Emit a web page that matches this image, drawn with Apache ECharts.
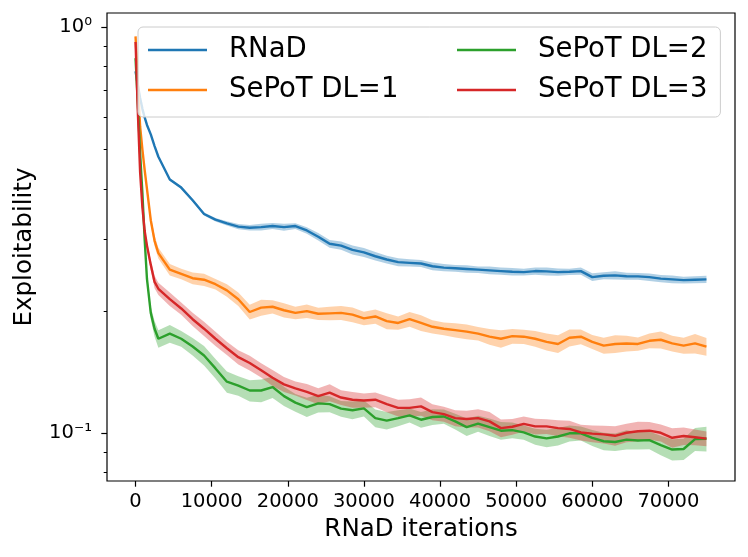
<!DOCTYPE html>
<html>
<head>
<meta charset="utf-8">
<script src="https://cdn.jsdelivr.net/npm/echarts@6/dist/echarts.min.js"></script>
<style>
* {margin: 0; padding: 0;}
#main {width: 748px; height: 557px;}
</style>
</head>
<body>
<div id="main"></div>
<script>
// x grid shared by every run (RNaD iterations)
const ITERS = [
    0, 300, 600, 900, 1200, 1500, 2000, 2500, 3000,
    4500, 6000, 7500, 9000, 10500, 12000, 13500, 15000,
    16500, 18000, 19500, 21000, 22500, 24000, 25500, 27000,
    28500, 30000, 31500, 33000, 34500, 36000, 37500, 39000,
    40500, 42000, 43500, 45000, 46500, 48000, 49500, 51000,
    52500, 54000, 55500, 57000, 58500, 60000, 61500, 63000,
    64500, 66000, 67500, 69000, 70500, 72000, 73500, 75000
];

// mean exploitability, and half width of the shaded band in percent
const RNAD = [
    0.78, 0.72, 0.67, 0.63, 0.60, 0.575, 0.545, 0.51, 0.48,
    0.422, 0.403, 0.375, 0.347, 0.336, 0.329, 0.323, 0.321,
    0.322, 0.324, 0.322, 0.324, 0.316, 0.305, 0.293, 0.290,
    0.283, 0.279, 0.273, 0.268, 0.264, 0.263, 0.262, 0.258,
    0.256, 0.255, 0.254, 0.253, 0.252, 0.251, 0.250, 0.2495,
    0.251, 0.2505, 0.2495, 0.250, 0.251, 0.2425, 0.2445, 0.245,
    0.2437, 0.2435, 0.2425, 0.2405, 0.2395, 0.2385, 0.239, 0.2395
];
const RNAD_SPREAD = [
    0.5, 0.5, 0.5, 0.5, 0.5, 0.5, 0.6, 0.6, 0.6,
    0.7, 0.8, 0.8, 0.9, 1.0, 1.2, 1.5, 1.6,
    1.9, 1.7, 2.0, 1.6, 1.9, 2.1, 2.2, 2.3,
    2.5, 2.6, 2.4, 2.2, 2.3, 2.1, 2.0, 2.2,
    2.0, 1.9, 2.1, 1.8, 2.2, 2.0, 2.1, 1.9,
    2.0, 2.3, 2.1, 1.8, 2.0, 2.2, 2.0, 2.3,
    2.0, 1.9, 2.1, 2.0, 2.2, 1.9, 2.0, 2.1
];

const DL1 = [
    0.95, 0.73, 0.57, 0.50, 0.445, 0.40, 0.335, 0.298, 0.278,
    0.253, 0.247, 0.241, 0.239, 0.233, 0.225, 0.214, 0.199,
    0.204, 0.205, 0.201, 0.198, 0.200, 0.197, 0.1975, 0.198,
    0.196, 0.192, 0.194, 0.189, 0.187, 0.191, 0.187, 0.183,
    0.181, 0.1795, 0.178, 0.176, 0.173, 0.171, 0.1735, 0.173,
    0.171, 0.168, 0.166, 0.172, 0.173, 0.168, 0.1645, 0.166,
    0.1665, 0.166, 0.169, 0.170, 0.1665, 0.1645, 0.1665, 0.1635
];
const DL1_SPREAD = [
    1.0, 1.0, 1.0, 1.2, 1.5, 2.0, 2.5, 3.0, 3.0,
    3.2, 3.0, 3.3, 3.5, 3.0, 3.5, 3.8, 4.2,
    4.5, 3.8, 4.0, 3.5, 3.8, 3.5, 3.8, 4.0,
    4.2, 3.8, 4.0, 4.5, 3.8, 4.2, 4.5, 3.8,
    3.6, 4.0, 4.2, 3.8, 4.5, 5.0, 4.2, 4.0,
    4.5, 4.8, 5.0, 4.8, 4.2, 4.0, 4.5, 5.0,
    4.5, 3.8, 4.2, 4.8, 4.5, 4.5, 5.5, 5.0
];

const DL2 = [
    0.84, 0.65, 0.49, 0.39, 0.30, 0.24, 0.198, 0.181, 0.171,
    0.176, 0.171, 0.1636, 0.1555, 0.1445, 0.134, 0.131, 0.1275,
    0.1275, 0.130, 0.1235, 0.119, 0.116, 0.1185, 0.118, 0.115,
    0.114, 0.1152, 0.109, 0.1075, 0.109, 0.1107, 0.108, 0.1097,
    0.110, 0.107, 0.1036, 0.1057, 0.1036, 0.1015, 0.1018, 0.1005,
    0.0982, 0.0972, 0.0982, 0.100, 0.100, 0.0975, 0.0956, 0.0952,
    0.0965, 0.096, 0.0962, 0.0935, 0.0912, 0.0915, 0.0968, 0.097
];
const DL2_SPREAD = [
    1.0, 1.0, 1.5, 1.5, 2.0, 2.5, 3.5, 4.5, 5.0,
    5.0, 4.5, 5.0, 5.5, 5.5, 6.0, 5.5, 6.0,
    6.5, 6.0, 5.5, 5.0, 5.5, 5.0, 4.5, 4.5,
    5.0, 4.5, 5.0, 5.0, 4.5, 4.0, 4.5, 4.5,
    4.0, 4.5, 5.0, 4.5, 5.0, 5.0, 4.5, 4.0,
    4.5, 5.0, 5.0, 4.5, 4.0, 4.5, 5.0, 5.0,
    5.5, 5.0, 5.0, 5.5, 6.0, 6.0, 6.5, 7.0
];

const DL3 = [
    0.92, 0.62, 0.44, 0.36, 0.315, 0.29, 0.26, 0.236, 0.227,
    0.214, 0.203, 0.191, 0.181, 0.171, 0.162, 0.154, 0.149,
    0.143, 0.137, 0.132, 0.129, 0.1265, 0.1235, 0.126, 0.1225,
    0.121, 0.1205, 0.121, 0.118, 0.1155, 0.1155, 0.1165, 0.1128,
    0.1115, 0.109, 0.1085, 0.109, 0.107, 0.103, 0.1038, 0.1055,
    0.104, 0.104, 0.103, 0.1025, 0.1005, 0.0998, 0.0994, 0.0986,
    0.1003, 0.1012, 0.1015, 0.1003, 0.0975, 0.0985, 0.0978, 0.097
];
const DL3_SPREAD = [
    1.0, 1.0, 1.2, 1.5, 2.0, 2.5, 3.0, 3.5, 3.5,
    3.8, 3.5, 3.8, 4.0, 4.0, 3.8, 4.0, 4.2,
    4.0, 4.5, 4.2, 4.0, 4.5, 4.5, 4.8, 4.2,
    4.5, 4.0, 4.2, 4.5, 4.8, 5.0, 5.2, 4.5,
    4.2, 4.5, 4.8, 5.2, 5.5, 5.0, 4.5, 4.2,
    4.5, 4.2, 4.5, 4.8, 4.5, 4.8, 5.0, 5.5,
    5.2, 5.5, 5.0, 4.8, 5.5, 5.0, 4.5, 4.2
];

const X_TICKS = [0, 10000, 20000, 30000, 40000, 50000, 60000, 70000];
const Y_MAJOR = [0.1, 1];
const Y_MINOR = [0.08, 0.09, 0.2, 0.3, 0.4, 0.5, 0.6, 0.7, 0.8, 0.9];

const NAMES = ['RNaD', 'SePoT DL=1', 'SePoT DL=2', 'SePoT DL=3'];
const COLORS = ['#1f77b4', '#ff7f0e', '#2ca02c', '#d62728'];
const BAND_COLORS = ['rgba(31,119,180,0.35)', 'rgba(255,127,14,0.35)', 'rgba(44,160,44,0.35)', 'rgba(214,39,40,0.35)'];
const RUNS = [[RNAD, RNAD_SPREAD], [DL1, DL1_SPREAD], [DL2, DL2_SPREAD], [DL3, DL3_SPREAD]];

const FONT = 'DejaVu Sans';
const SUP = {'-': '\u207b', '0': '\u2070', '1': '\u00b9', '2': '\u00b2', '3': '\u00b3'};

function runSeries(i) {
    const [mean, spread] = RUNS[i];
    // rows: [iteration, lower, upper]
    const band = mean.map((v, k) => [ITERS[k], v * (1 - spread[k] / 100), v * (1 + spread[k] / 100)]);
    return [
        {
            type: 'custom',
            name: '_band' + i,
            silent: true,
            data: band,
            encode: {x: 0, y: [1, 2]},
            renderItem(params, api) {
                // the whole band is one polygon, drawn on the first item
                if (params.dataIndex !== 0) {
                    return null;
                }
                const top = band.map(r => api.coord([r[0], r[2]]));
                const bottom = band.map(r => api.coord([r[0], r[1]])).reverse();
                return {
                    type: 'polygon',
                    shape: {points: top.concat(bottom)},
                    style: {fill: BAND_COLORS[i]}
                };
            }
        },
        {
            type: 'line', name: NAMES[i],
            data: mean.map((v, k) => [ITERS[k], v]),
            symbol: 'none',
            color: COLORS[i],
            lineStyle: {width: 2.4, color: COLORS[i]}
        }
    ];
}

const legendText = {
    fontFamily: FONT, fontSize: 27.5, color: '#000',
    lineHeight: 32, padding: [0, 0, 0, 17]
};

const option = {
    animation: false,
    textStyle: {fontFamily: FONT},
    grid: {
        left: 107, right: 13, top: 13, bottom: 76,
        show: true, borderColor: '#000', borderWidth: 1.2
    },
    legend: [
        {
            data: NAMES.slice(0, 2), orient: 'vertical',
            left: 138, top: 27, padding: [7, 322, 11, 10],
            itemGap: 8, itemWidth: 59, itemHeight: 2.4, icon: 'rect',
            backgroundColor: 'rgba(255,255,255,0.8)',
            borderColor: '#cccccc', borderWidth: 1, borderRadius: 5,
            selectedMode: false, textStyle: legendText, z: 5
        },
        {
            data: NAMES.slice(2), orient: 'vertical',
            left: 457, top: 34, padding: 0,
            itemGap: 8, itemWidth: 59, itemHeight: 2.4, icon: 'rect',
            selectedMode: false, textStyle: legendText, z: 6
        }
    ],
    xAxis: {
        type: 'value', min: -3750, max: 78750,
        axisLine: {show: false, onZero: false},
        splitLine: {show: false},
        axisTick: {customValues: X_TICKS, length: 5.7, lineStyle: {color: '#000', width: 1.2}},
        axisLabel: {
            customValues: X_TICKS, fontSize: 19.5, color: '#000', margin: 11, fontFamily: FONT,
            formatter: v => String(v)
        },
        name: 'RNaD iterations', nameLocation: 'middle', nameGap: 32,
        nameTextStyle: {fontSize: 24.5, color: '#000', fontFamily: FONT}
    },
    yAxis: [
        {
            type: 'log', logBase: 10, min: 0.0763, max: 1.085, position: 'left',
            axisLine: {show: false, onZero: false},
            splitLine: {show: false},
            axisTick: {customValues: Y_MAJOR, length: 5.7, lineStyle: {color: '#000', width: 1.2}},
            axisLabel: {
                customValues: Y_MAJOR, fontSize: 19.5, color: '#000', margin: 15, fontFamily: FONT,
                formatter: v => '10' + String(Math.round(Math.log10(v))).split('').map(c => SUP[c]).join('')
            },
            name: 'Exploitability', nameLocation: 'middle', nameGap: 70,
            nameTextStyle: {fontSize: 24.5, color: '#000', fontFamily: FONT}
        },
        {
            type: 'log', logBase: 10, min: 0.0763, max: 1.085, position: 'left',
            axisLine: {show: false, onZero: false},
            splitLine: {show: false},
            axisLabel: {show: false},
            axisTick: {customValues: Y_MINOR, length: 3.3, lineStyle: {color: '#000', width: 1}}
        }
    ],
    series: [0, 1, 2, 3].map(runSeries).flat()
};

const chart = echarts.init(document.getElementById('main'));
chart.setOption(option);
</script>
</body>
</html>
